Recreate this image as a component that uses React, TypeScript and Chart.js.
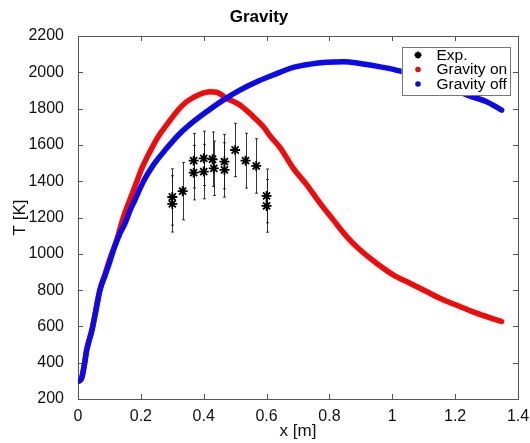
import React, { useEffect, useRef } from 'react';
import { Chart, registerables } from 'chart.js';

Chart.register(...registerables);

// Gravity on (red)
const onX = [0, 0.006, 0.012, 0.02, 0.028, 0.044, 0.054, 0.07, 0.086, 0.1, 0.123, 0.144, 0.16, 0.187, 0.203, 0.229, 0.255, 0.282, 0.314, 0.346, 0.388, 0.42, 0.441, 0.473, 0.515, 0.558, 0.59, 0.611, 0.643, 0.685, 0.728, 0.77, 0.812, 0.855, 0.897, 0.95, 1.003, 1.056, 1.109, 1.162, 1.215, 1.268, 1.321, 1.348];
const onT = [297, 302, 317, 388, 475, 580, 665, 805, 888, 965, 1075, 1200, 1275, 1398, 1471, 1563, 1645, 1710, 1783, 1838, 1879, 1893, 1890, 1857, 1820, 1755, 1700, 1650, 1585, 1471, 1380, 1279, 1187, 1095, 1022, 948, 884, 838, 792, 747, 710, 673, 642, 627];

// Gravity off (blue)
const offX = [0, 0.006, 0.012, 0.02, 0.028, 0.044, 0.054, 0.07, 0.086, 0.1, 0.113, 0.134, 0.15, 0.166, 0.18, 0.208, 0.24, 0.282, 0.325, 0.367, 0.409, 0.462, 0.515, 0.569, 0.621, 0.685, 0.738, 0.791, 0.844, 0.897, 0.95, 1.003, 1.05, 1.1, 1.15, 1.2, 1.237, 1.3, 1.348];
const offT = [297, 302, 317, 385, 471, 575, 660, 800, 880, 950, 1022, 1114, 1169, 1240, 1292, 1398, 1490, 1581, 1664, 1728, 1783, 1847, 1902, 1948, 1985, 2027, 2045, 2055, 2058, 2049, 2034, 2016, 1995, 1970, 1940, 1905, 1875, 1838, 1792];

// Experimental data
const expX = [0.3, 0.3, 0.333, 0.368, 0.368, 0.4, 0.4, 0.428, 0.432, 0.466, 0.466, 0.5, 0.533, 0.567, 0.6, 0.6];
const expT = [1313, 1275, 1345, 1513, 1447, 1526, 1453, 1521, 1471, 1508, 1462, 1572, 1513, 1484, 1319, 1264];
const expErr = [155, 155, 158, 150, 150, 150, 150, 150, 150, 150, 150, 147, 151, 150, 148, 145];

const xMin = 0, xMax = 1.4, xStep = 0.2;
const yMin = 200, yMax = 2200, yStep = 200;

const titleText = 'Gravity';
const xLabel = 'x [m]';
const yLabel = 'T [K]';
const seriesLabels = ['Exp.', 'Gravity on', 'Gravity off'];

const FONT = '"Liberation Sans", Arial, Helvetica, sans-serif';
const RED = 'rgb(240,10,10)';
const BLUE = 'rgb(10,10,235)';
const FRAME = '#555';

function drawAsterisk(ctx: CanvasRenderingContext2D, x: number, y: number, r: number, w: number) {
  ctx.save();
  ctx.strokeStyle = '#000';
  ctx.lineWidth = w;
  ctx.beginPath();
  for (let k = 0; k < 4; k++) {
    const a = (k * Math.PI) / 4;
    ctx.moveTo(x - r * Math.cos(a), y - r * Math.sin(a));
    ctx.lineTo(x + r * Math.cos(a), y + r * Math.sin(a));
  }
  ctx.stroke();
  ctx.restore();
}

const framePlugin = {
  id: 'frameTicks',
  beforeDatasetsDraw(chart: any) {
    const { ctx, chartArea: a, scales } = chart;
    const xs = scales.x, ys = scales.y;
    ctx.save();
    ctx.strokeStyle = FRAME;
    ctx.lineWidth = 1;
    ctx.strokeRect(Math.round(a.left) + 0.5, Math.round(a.top) + 0.5, Math.round(a.right - a.left), Math.round(a.bottom - a.top));
    const L = 5;
    ctx.beginPath();
    xs.ticks.forEach((t: any) => {
      const px = Math.round(xs.getPixelForValue(t.value)) + 0.5;
      ctx.moveTo(px, a.bottom); ctx.lineTo(px, a.bottom - L);
      ctx.moveTo(px, a.top); ctx.lineTo(px, a.top + L);
    });
    ys.ticks.forEach((t: any) => {
      const py = Math.round(ys.getPixelForValue(t.value)) + 0.5;
      ctx.moveTo(a.left, py); ctx.lineTo(a.left + L, py);
      ctx.moveTo(a.right, py); ctx.lineTo(a.right - L, py);
    });
    ctx.stroke();

    // error bars for experimental data
    ctx.strokeStyle = 'rgba(20,20,20,0.85)';
    ctx.lineWidth = 1;
    ctx.beginPath();
    for (let i = 0; i < expX.length; i++) {
      const px = Math.round(xs.getPixelForValue(expX[i])) + 0.5;
      const top = ys.getPixelForValue(expT[i] + expErr[i]);
      const bot = ys.getPixelForValue(expT[i] - expErr[i]);
      ctx.moveTo(px, top); ctx.lineTo(px, bot);
      ctx.moveTo(px - 1.5, top); ctx.lineTo(px + 1.5, top);
      ctx.moveTo(px - 1.5, bot); ctx.lineTo(px + 1.5, bot);
    }
    ctx.stroke();
    ctx.restore();
  },
  afterDraw(chart: any) {
    const { ctx, chartArea: a } = chart;
    const ds = chart.data.datasets;
    const bx = a.right - 116.3, by = a.top + 10.7, bw = 107.6, bh = 48.3;
    ctx.save();
    ctx.fillStyle = '#fff';
    ctx.fillRect(bx, by, bw, bh);
    ctx.strokeStyle = '#777';
    ctx.lineWidth = 1;
    ctx.strokeRect(Math.round(bx) + 0.5, Math.round(by) + 0.5, Math.round(bw), Math.round(bh));
    const rows = [8.3, 22.8, 37.3];
    ctx.font = `15.5px ${FONT}`;
    ctx.textBaseline = 'middle';
    ctx.textAlign = 'left';
    ds.forEach((d: any, i: number) => {
      const cy = by + rows[i];
      const ix = bx + 16.3;
      if (i === 0) {
        drawAsterisk(ctx, ix, cy, 3.5, 1.8);
      } else {
        ctx.fillStyle = d.backgroundColor;
        ctx.beginPath();
        ctx.arc(ix, cy, 2.8, 0, Math.PI * 2);
        ctx.fill();
      }
      ctx.fillStyle = '#000';
      ctx.fillText(d.label, bx + 34.8, cy + 0.5);
    });
    ctx.restore();
  },
};

export default function App() {
  const ref = useRef<HTMLCanvasElement | null>(null);

  useEffect(() => {
    if (!ref.current) return;
    const chart = new Chart(ref.current, {
      type: 'scatter',
      data: {
        datasets: [
          {
            label: seriesLabels[0],
            data: expX.map((x, i) => ({ x, y: expT[i] })),
            pointStyle: 'star',
            pointRadius: 5,
            borderWidth: 1.8,
            borderColor: '#000',
            backgroundColor: '#000',
            showLine: false,
            order: 0,
          },
          {
            label: seriesLabels[1],
            data: onX.map((x, i) => ({ x, y: onT[i] })),
            showLine: true,
            borderColor: RED,
            backgroundColor: RED,
            borderWidth: 5.5,
            borderCapStyle: 'round',
            borderJoinStyle: 'round',
            pointRadius: 0,
            cubicInterpolationMode: 'monotone',
            order: 2,
          },
          {
            label: seriesLabels[2],
            data: offX.map((x, i) => ({ x, y: offT[i] })),
            showLine: true,
            borderColor: BLUE,
            backgroundColor: BLUE,
            borderWidth: 5.5,
            borderCapStyle: 'round',
            borderJoinStyle: 'round',
            pointRadius: 0,
            cubicInterpolationMode: 'monotone',
            order: 1,
          },
        ],
      },
      options: {
        responsive: false,
        animation: false,
        devicePixelRatio: 1,
        layout: { padding: { left: 0, right: 12, top: 0, bottom: 0 } },
        plugins: {
          legend: { display: false },
          tooltip: { enabled: false },
          title: {
            display: true,
            text: titleText,
            color: '#000',
            font: { family: FONT, size: 17, weight: 'bold' },
            padding: { top: 7, bottom: 8.6 },
          },
        },
        scales: {
          x: {
            type: 'linear',
            min: xMin,
            max: xMax,
            grid: { display: false },
            border: { display: false },
            ticks: {
              stepSize: xStep,
              padding: 0,
              color: '#111',
              font: { family: FONT, size: 16 },
              callback: (v: any) => String(Number(Number(v).toFixed(1))),
            },
            title: {
              display: true,
              text: xLabel,
              color: '#111',
              font: { family: FONT, size: 17 },
              padding: { top: 0, bottom: 1 },
            },
            afterFit: (s: any) => { s.height = 44; },
          },
          y: {
            type: 'linear',
            min: yMin,
            max: yMax,
            grid: { display: false },
            border: { display: false },
            ticks: {
              stepSize: yStep,
              padding: 6,
              color: '#111',
              font: { family: FONT, size: 16 },
              callback: (v: any) => String(Math.round(Number(v))),
            },
            title: {
              display: true,
              text: yLabel,
              color: '#111',
              font: { family: FONT, size: 17 },
              padding: { top: 10, bottom: 0 },
            },
            afterFit: (s: any) => { s.width = 78; },
          },
        },
      },
      plugins: [framePlugin],
    } as any);
    return () => chart.destroy();
  }, []);

  return (
    <div style={{ position: 'fixed', left: 0, top: 0, width: 530, height: 443, background: '#fff' }}>
      <canvas ref={ref} width={530} height={443} style={{ display: 'block' }} />
    </div>
  );
}
